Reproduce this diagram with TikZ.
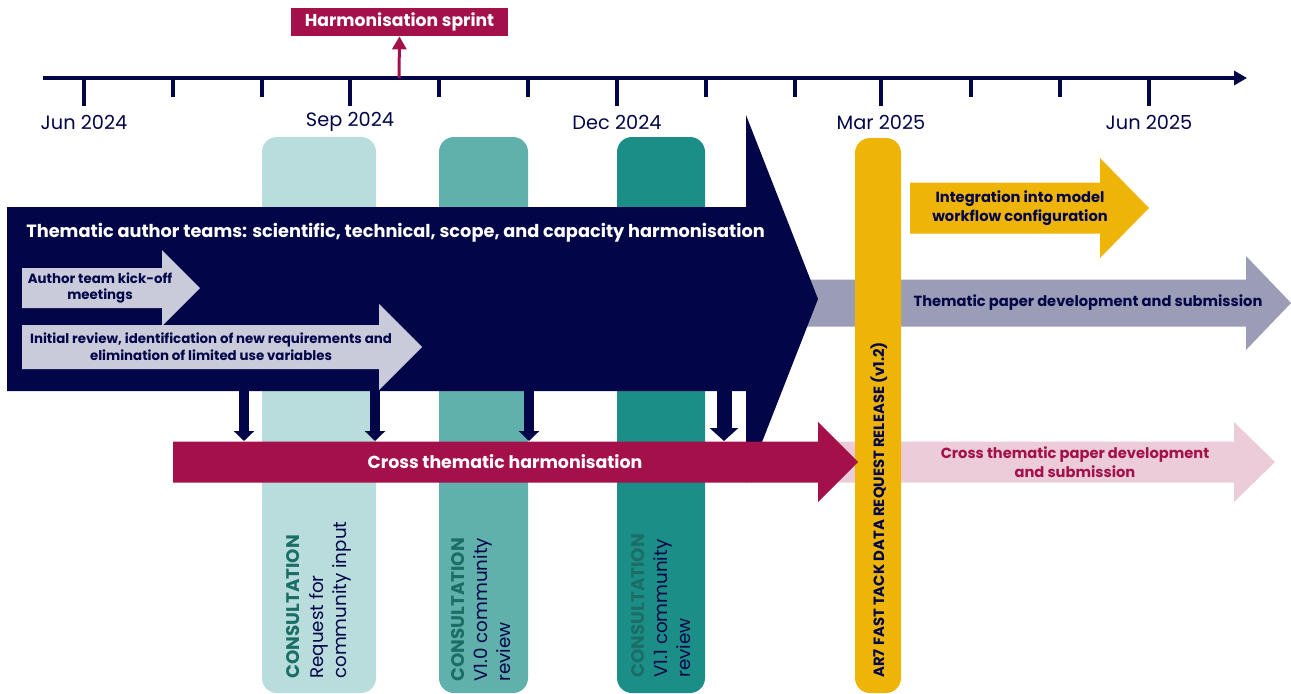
\documentclass[tikz,border=0pt]{standalone}
\usepackage{fontspec}
\setmainfont{Poppins}
\usetikzlibrary{arrows.meta}
\definecolor{navy}{RGB}{2,6,72}
\definecolor{crimson}{RGB}{163,16,74}
\definecolor{lavender}{RGB}{201,203,219}
\definecolor{greyarr}{RGB}{154,157,181}
\definecolor{pinkarr}{RGB}{235,204,216}
\definecolor{gold}{RGB}{238,181,8}
\definecolor{tealA}{RGB}{185,221,220}
\definecolor{tealB}{RGB}{96,176,172}
\definecolor{tealC}{RGB}{27,143,135}
\definecolor{tealtext}{RGB}{27,110,102}
% block arrow: fill, x left, x head base, x tip, y mid, body half, head half
\newcommand{\fatarrow}[7]{%
	\fill[#1] (#2,{#5-#6}) -- (#3,{#5-#6}) -- (#3,{#5-#7}) -- (#4,#5)
		-- (#3,{#5+#7}) -- (#3,{#5+#6}) -- (#2,{#5+#6}) -- cycle;}
\tikzset{
	node_date/.style = {
		inner sep=0pt,
		text=navy,
		font=\fontsize{11}{13}\selectfont
	},
	node_title/.style = {
		inner sep=0pt,
		text=white,
		font=\bfseries\fontsize{10.1}{12}\selectfont
	},
	node_small/.style = {
		align=center,
		inner sep=0pt,
		text=navy,
		font=\bfseries\fontsize{7.6}{9.6}\selectfont
	},
	node_mid/.style = {
		align=center,
		inner sep=0pt,
		font=\bfseries\fontsize{8.35}{10.8}\selectfont
	},
	node_cons/.style = {
		rotate=90,
		anchor=west,
		align=left,
		inner sep=0pt,
		text=navy,
		font=\fontsize{10.4}{13.2}\selectfont
	},
	node_release/.style = {
		rotate=90,
		anchor=west,
		inner sep=0pt,
		text=navy,
		font=\bfseries\fontsize{8.45}{10}\selectfont
	},
	bar_cons/.style = {
		rounded corners=0.3cm
	},
	down_arrow/.style = {
		draw=navy,
		line width=0.2cm,
		-{Triangle[width=0.4cm,length=0.2cm]}
	},
	down_arrow_wide/.style = {
		down_arrow,
		line width=0.3cm,
		-{Triangle[width=0.56cm,length=0.26cm]}
	},
}

\begin{document}
\begin{tikzpicture}[x=0.02cm,y=-0.02cm]
\useasboundingbox (0,0) rectangle (1291,693);

% timeline
\coordinate (tl_start) at (43,78);
\coordinate (tl_end) at (1247,78);
\draw[navy, line width=0.08cm, -{Triangle[width=0.28cm,length=0.26cm]}] (tl_start) -- (tl_end);
\foreach \x in {173,262,439,528,706,795,971,1060}
	\draw[navy, line width=0.08cm] (\x,78) -- (\x,97);
\foreach \x/\d [count=\i] in {84/Jun 2024,350/Sep 2024,617/Dec 2024,881/Mar 2025,1149/Jun 2025}{
	\draw[navy, line width=0.08cm] (\x,78) -- (\x,106);
	\node[node_date] (date\i) at (\x,122) {\d};
}

% harmonisation sprint
\node[fill=crimson, text=white, font=\bfseries\fontsize{9.8}{11}\selectfont,
	minimum width=4.34cm, minimum height=0.56cm, inner sep=0pt] (sprint) at (399.5,22) {Harmonisation sprint};
\coordinate (sprint_tick) at (399,78);
\draw[crimson, line width=0.06cm, -{Triangle[width=0.28cm,length=0.26cm]}] (sprint_tick) -- (sprint.south);

% consultation bars
\fill[tealA, bar_cons] (262,137) rectangle (376,693);
\fill[tealB, bar_cons] (439,137) rectangle (528,693);
\fill[tealC, bar_cons] (617,137) rectangle (705,693);

% arrows behind
\fatarrow{greyarr}{790}{1246}{1291}{303}{23.5}{47}
\fatarrow{pinkarr}{830}{1234}{1275}{462}{20.5}{40}

% thematic author teams
\fatarrow{navy}{7}{746}{818}{299}{92}{184}
\fatarrow{lavender}{22}{162}{200}{288}{20}{38}
\fatarrow{lavender}{22}{379}{422}{347}{22}{43}

\foreach \x [count=\i] in {244,375,529}{
	\coordinate (up\i) at (\x,391);
	\coordinate (lo\i) at (\x,441);
	\draw[down_arrow] (up\i) -- (lo\i);
}
\coordinate (up4) at (724,391);
\coordinate (lo4) at (724,441);
\draw[down_arrow_wide] (up4) -- (lo4);

% release bar
\fill[gold, bar_cons] (855,138) rectangle (901,693);

\fatarrow{crimson}{173}{818}{858}{462}{20.5}{40}
\fatarrow{gold}{910}{1100}{1149}{208}{25.5}{50}

% texts
\node[node_title, anchor=west] (teams) at (26,233)
	{Thematic author teams: scientific, technical, scope, and capacity harmonisation};
\node[node_small] (kickoff) at (100,288) {Author team kick-off\\meetings};
\node[node_small] (review) at (211,347)
	{Initial review, identification of new requirements and\\elimination of limited use variables};
\node[node_mid, text=white, font=\bfseries\fontsize{9.9}{11}\selectfont] (cross) at (505,462)
	{Cross thematic harmonisation};
\node[node_mid, text=navy] (integ) at (1020,208) {Integration into model\\workflow configuration};
\node[node_mid, text=navy] (paper) at (1088,303) {Thematic paper development and submission};
\node[node_mid, text=crimson] (crosspaper) at (1075,462)
	{Cross thematic paper development\\and submission};

\node[node_cons] (cons1) at (319,679)
	{\textcolor{tealtext}{\bfseries CONSULTATION}\\Request for\\community input};
\node[node_cons] (cons2) at (481,682)
	{\textcolor{tealtext}{\bfseries CONSULTATION}\\V1.0 community\\review};
\node[node_cons] (cons3) at (661,678)
	{\textcolor{tealtext}{\bfseries CONSULTATION}\\V1.1 community\\review};
\node[node_release] (release) at (879,678) {AR7 FAST TACK DATA REQUEST RELEASE (v1.2)};
\end{tikzpicture}
\end{document}
